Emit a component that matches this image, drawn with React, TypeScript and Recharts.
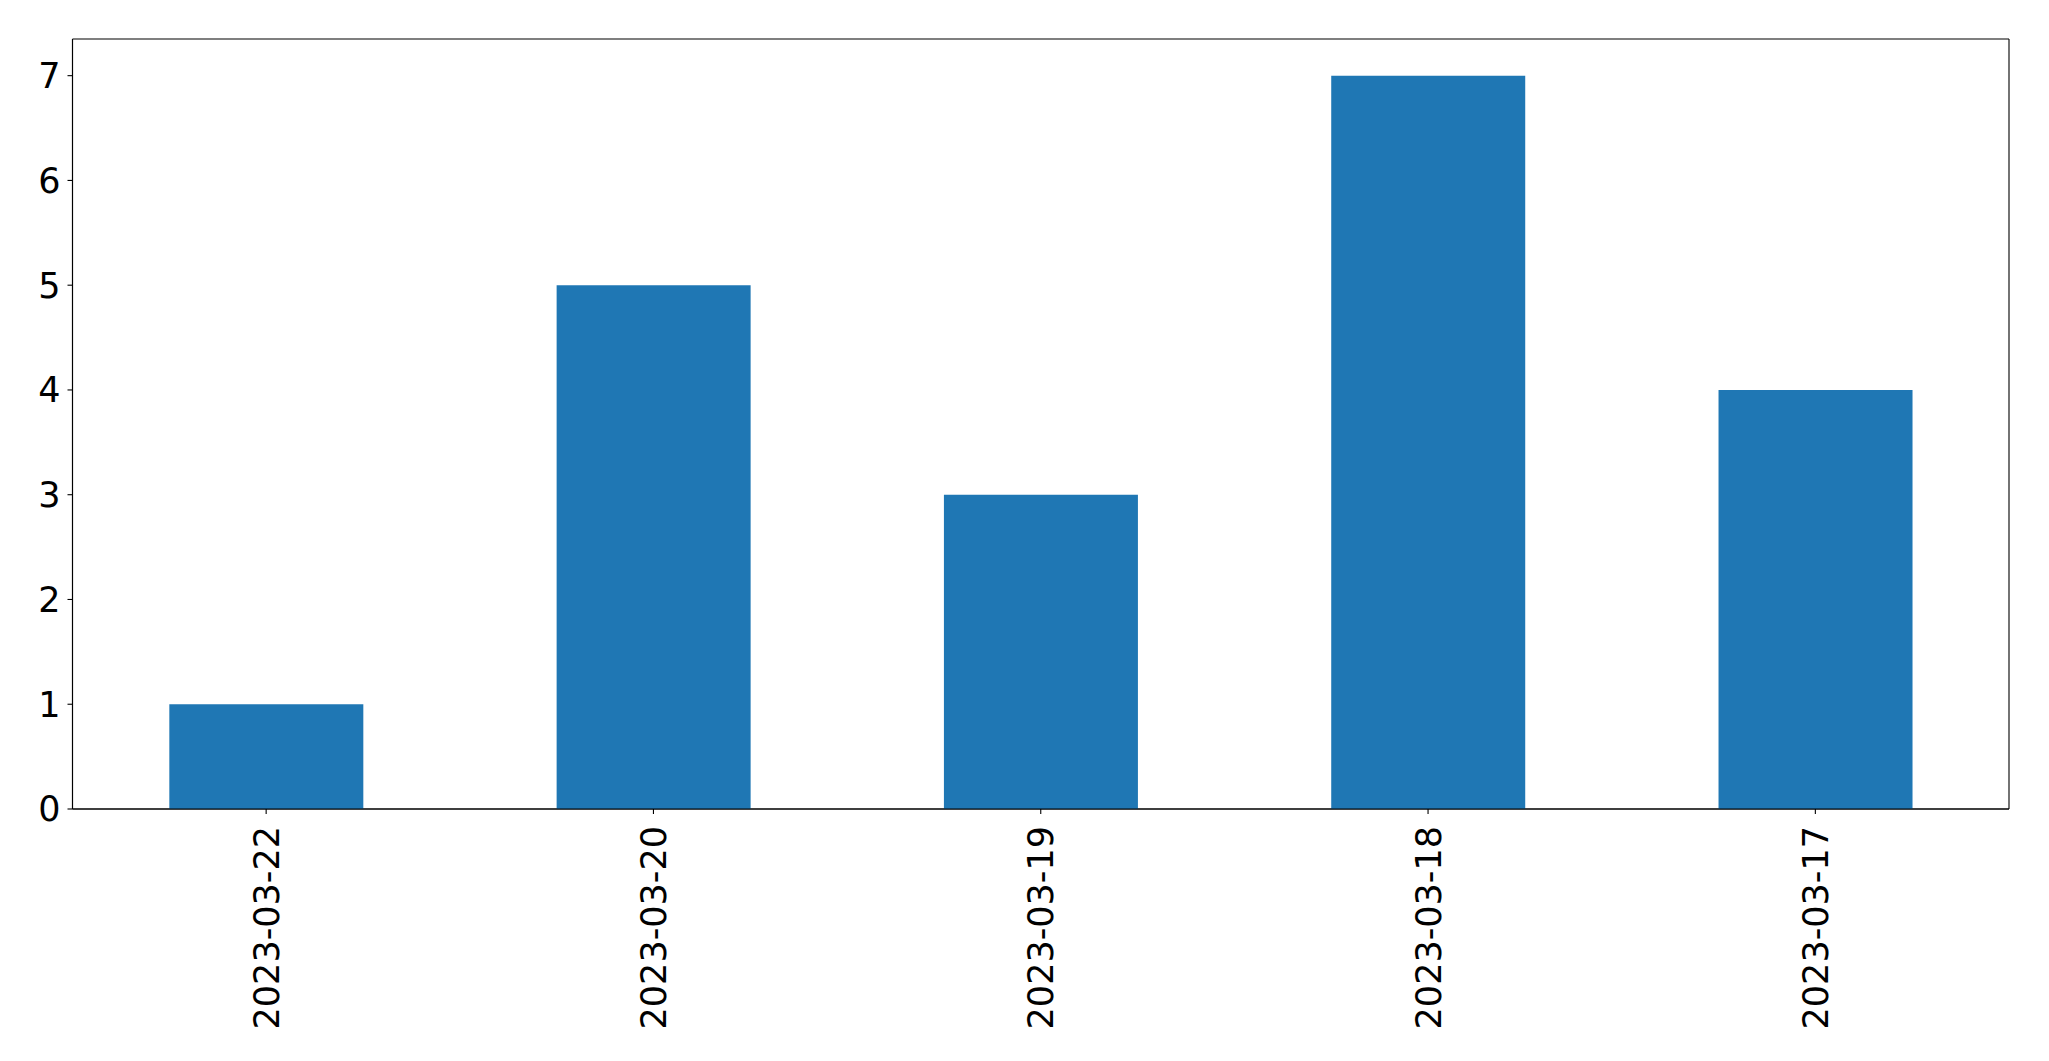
import React from "react";
import { BarChart, Bar, XAxis, YAxis, CartesianGrid } from "recharts";

const categories = ["2023-03-22", "2023-03-20", "2023-03-19", "2023-03-18", "2023-03-17"];
const counts = [1, 5, 3, 7, 4];
const yTicks = [0, 1, 2, 3, 4, 5, 6, 7];

const data = categories.map((c, i) => ({ date: c, count: counts[i] }));

const FONT = "DejaVu Sans";
const FS = 35;

const XTick = (props: any) => {
  const { x, y, payload } = props;
  return (
    <text
      x={x}
      y={y}
      transform={`rotate(-90, ${x}, ${y})`}
      textAnchor="end"
      dy="0.36em"
      fontFamily={FONT}
      fontSize={FS}
      fill="#000"
    >
      {payload.value}
    </text>
  );
};

const hGen = (p: any) => [p.offset.top, p.offset.top + p.offset.height];
const vGen = (p: any) => [p.offset.left, p.offset.left + p.offset.width];

export default function App() {
  return (
    <div style={{ position: "absolute", left: 0, top: 0, width: 2049, height: 1061, background: "#fff" }}>
      <BarChart
        width={2049}
        height={1061}
        data={data}
        margin={{ top: 39, right: 40, bottom: 0, left: 0 }}
        barCategoryGap="25%"
      >
        <CartesianGrid
          stroke="#000"
          strokeWidth={1.1}
          fill="none"
          horizontalCoordinatesGenerator={hGen}
          verticalCoordinatesGenerator={vGen}
        />
        <XAxis
          dataKey="date"
          height={252}
          tick={<XTick />}
          tickSize={5}
          tickMargin={12}
          interval={0}
          axisLine={{ stroke: "#000", strokeWidth: 1.1 }}
          tickLine={{ stroke: "#000", strokeWidth: 1.1 }}
        />
        <YAxis
          width={72.5}
          domain={[0, 7.35]}
          ticks={yTicks}
          tickSize={5}
          tickMargin={7}
          interval={0}
          tick={{ fontFamily: FONT, fontSize: FS, fill: "#000" }}
          axisLine={{ stroke: "#000", strokeWidth: 1.1 }}
          tickLine={{ stroke: "#000", strokeWidth: 1.1 }}
        />
        <Bar dataKey="count" fill="#1f77b4" isAnimationActive={false} />
      </BarChart>
    </div>
  );
}
